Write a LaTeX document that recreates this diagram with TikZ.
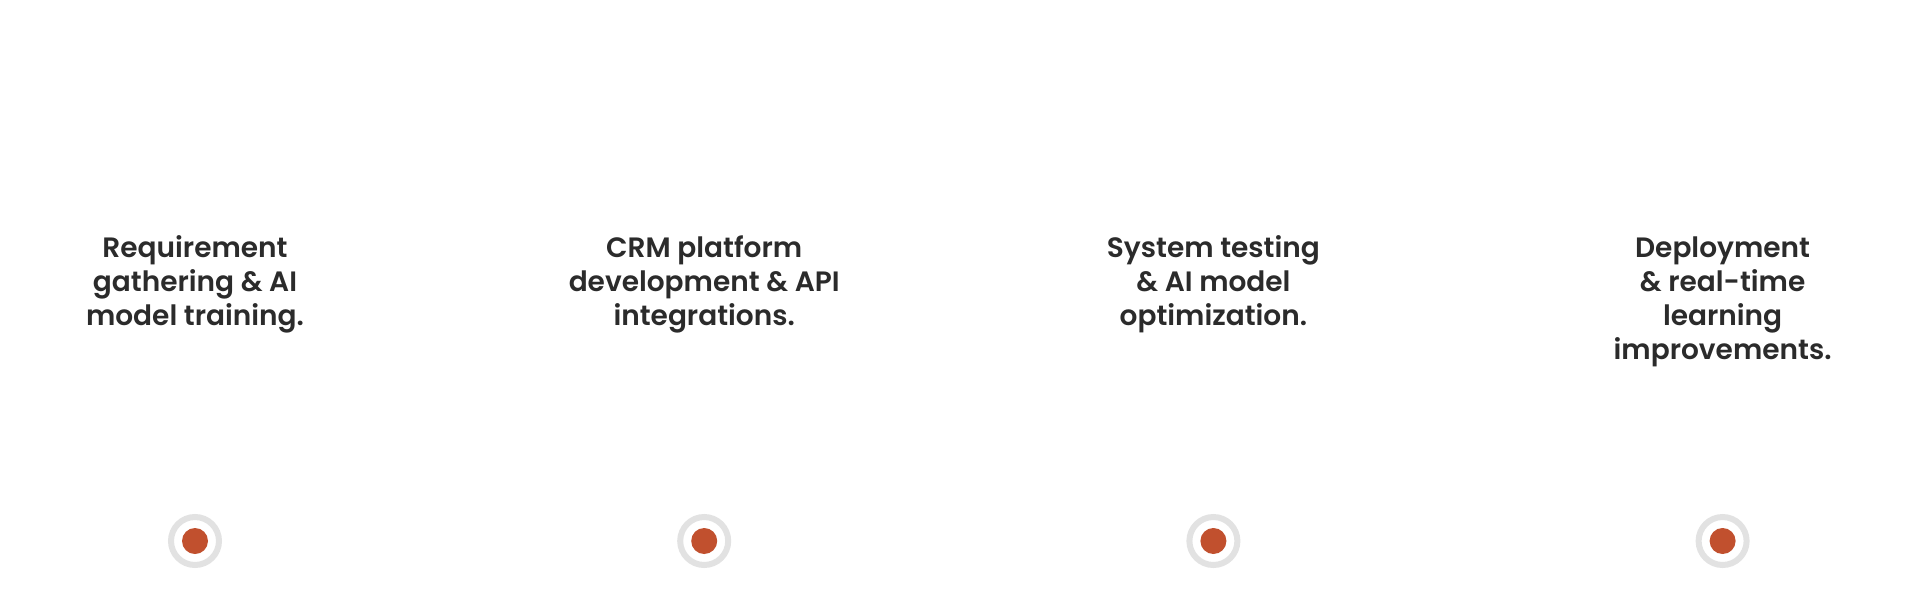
\documentclass[tikz,border=0pt]{standalone}
\usepackage{fontspec}
\setmainfont{Poppins}[UprightFont=* SemiBold]
\definecolor{txt}{HTML}{2B2B2B}
\definecolor{ringgray}{HTML}{E2E2E2}
\definecolor{dotred}{HTML}{C1502E}
\begin{document}
\begin{tikzpicture}[x=1pt,y=-1pt,
  label/.style={inner sep=0pt, align=center, text=txt, font=\fontsize{28}{34}\selectfont, anchor=north},
  ringdot/.style={circle, draw=ringgray, line width=6pt, fill=white, minimum size=48pt, inner sep=0pt},
  core/.style={circle, fill=dotred, minimum size=26pt, inner sep=0pt}]
\useasboundingbox[fill=white] (0,0) rectangle (1920,611);
\foreach \i/\t in {0/{Requirement\\gathering \& AI\\model training.},
                   1/{CRM platform\\development \& API\\integrations.},
                   2/{System testing\\\& AI model\\optimization.},
                   3/{Deployment\\\& real-time\\learning\\improvements.}}{
  \node[label] (t\i) at (195+509.2*\i,233.2) {\strut\t};
  \node[ringdot] (r\i) at (195+509.2*\i,541) {};
  \node[core] (c\i) at (r\i.center) {};
}
\end{tikzpicture}
\end{document}
